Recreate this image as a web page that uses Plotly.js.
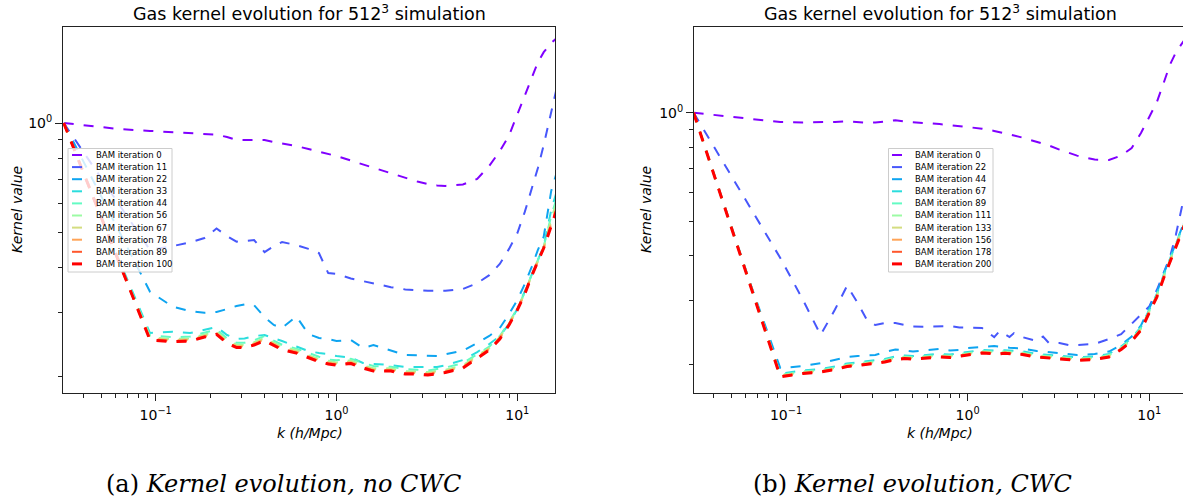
<!DOCTYPE html>
<html><head><meta charset="utf-8">
<script src="https://cdn.plot.ly/plotly-3.0.1.min.js"></script>
<style>html,body{margin:0;padding:0;background:#fff}#chart{width:1183px;height:499px}</style>
</head><body><div id="chart"></div>
<script>
// ---------- data : left panel (no CWC) ----------
const kLeft = [0.031, 0.062, 0.093, 0.124, 0.155, 0.186, 0.217, 0.248, 0.28, 0.31, 0.35, 0.40, 0.45, 0.5, 0.6, 0.7, 0.8, 0.9, 1.0, 1.2, 1.4, 1.6, 2.0, 2.4, 2.8, 3.2, 3.6, 4.0, 5.0, 6.0, 7.0, 8.0, 9.0, 10, 11, 12, 13, 14, 15.4, 17];
const leftIterations = [0, 11, 22, 33, 44, 56, 67, 78, 89, 100];
const left_it0   = [1.0, 0.963, 0.951, 0.942, 0.936, 0.931, 0.929, 0.915, 0.898, 0.898, 0.900, 0.898, 0.886, 0.878, 0.864, 0.848, 0.835, 0.824, 0.811, 0.788, 0.769, 0.752, 0.726, 0.706, 0.690, 0.679, 0.673, 0.671, 0.677, 0.701, 0.762, 0.836, 0.924, 1.055, 1.190, 1.326, 1.470, 1.567, 1.661, 1.737];
const left_it11  = [1.0, 0.600, 0.447, 0.458, 0.469, 0.482, 0.512, 0.488, 0.471, 0.473, 0.476, 0.441, 0.458, 0.470, 0.461, 0.450, 0.438, 0.386, 0.384, 0.373, 0.367, 0.361, 0.353, 0.348, 0.346, 0.345, 0.345, 0.345, 0.349, 0.362, 0.381, 0.409, 0.450, 0.497, 0.569, 0.654, 0.752, 0.870, 1.072, 1.33];
const left_it22  = [1.0, 0.508, 0.343, 0.312, 0.3034, 0.3001, 0.3015, 0.3073, 0.3132, 0.3162, 0.315, 0.292, 0.2777, 0.2725, 0.2931, 0.2623, 0.2557, 0.2541, 0.2508, 0.2525, 0.2400, 0.2445, 0.2368, 0.2296, 0.229, 0.229, 0.2280, 0.2307, 0.2361, 0.2476, 0.259, 0.2723, 0.2976, 0.3254, 0.3602, 0.401, 0.447, 0.486, 0.650, 0.766];
const left_it33  = [1.0, 0.425, 0.2639, 0.2661, 0.2639, 0.2690, 0.2742, 0.2606, 0.2541, 0.2549, 0.2589, 0.2606, 0.2557, 0.2508, 0.2422, 0.2354, 0.2324, 0.2309, 0.2280, 0.2259, 0.2183, 0.2168, 0.2154, 0.2127, 0.2129, 0.2129, 0.2129, 0.2149, 0.2224, 0.2339, 0.2461, 0.2589, 0.2795, 0.3073, 0.3423, 0.3814, 0.4194, 0.4583, 0.576, 0.68];
const left_it44  = [1.0, 0.421, 0.260, 0.257, 0.258, 0.265, 0.270, 0.255, 0.248, 0.248, 0.252, 0.259, 0.251, 0.245, 0.239, 0.232, 0.227, 0.223, 0.222, 0.224, 0.218, 0.214, 0.213, 0.210, 0.209, 0.208, 0.210, 0.212, 0.218, 0.231, 0.242, 0.259, 0.282, 0.309, 0.341, 0.382, 0.418, 0.457, 0.555, 0.65];
const left_it56  = [1.0, 0.419, 0.257, 0.254, 0.255, 0.262, 0.267, 0.252, 0.245, 0.245, 0.249, 0.256, 0.248, 0.242, 0.237, 0.229, 0.224, 0.221, 0.219, 0.222, 0.215, 0.211, 0.211, 0.207, 0.207, 0.206, 0.208, 0.209, 0.215, 0.229, 0.240, 0.257, 0.280, 0.307, 0.340, 0.381, 0.416, 0.455, 0.545, 0.635];
const left_it67  = [1.0, 0.418, 0.2555, 0.2527, 0.2538, 0.2604, 0.265, 0.2506, 0.2435, 0.2435, 0.2474, 0.2547, 0.2464, 0.2402, 0.2352, 0.2279, 0.2226, 0.2194, 0.218, 0.2201, 0.2139, 0.2098, 0.2098, 0.2058, 0.2058, 0.2045, 0.2065, 0.2079, 0.2139, 0.2279, 0.2396, 0.2570, 0.2800, 0.3070, 0.3395, 0.3800, 0.4150, 0.4535, 0.535, 0.62];
const left_it78  = [1.0, 0.418, 0.2543, 0.2514, 0.2526, 0.2591, 0.2636, 0.2493, 0.2423, 0.2423, 0.2462, 0.2535, 0.2452, 0.2391, 0.2340, 0.2268, 0.2215, 0.2183, 0.2169, 0.2190, 0.2129, 0.2087, 0.2087, 0.2048, 0.2048, 0.2035, 0.2055, 0.2068, 0.2129, 0.2268, 0.2385, 0.2558, 0.2790, 0.3062, 0.3388, 0.3795, 0.4145, 0.4530, 0.528, 0.61];
const left_it89  = [1.0, 0.417, 0.2533, 0.2504, 0.2515, 0.2581, 0.2626, 0.2483, 0.2413, 0.2413, 0.2452, 0.2525, 0.2442, 0.2381, 0.2331, 0.2259, 0.2207, 0.2174, 0.2160, 0.2181, 0.2120, 0.2079, 0.2079, 0.2040, 0.2040, 0.2027, 0.2047, 0.2060, 0.2120, 0.2259, 0.2375, 0.2548, 0.2783, 0.3058, 0.3384, 0.3792, 0.4143, 0.4527, 0.523, 0.605];
const left_it100 = [1.0, 0.417, 0.2525, 0.2497, 0.2508, 0.2573, 0.2618, 0.2476, 0.2406, 0.2406, 0.2445, 0.2517, 0.2435, 0.2374, 0.2324, 0.2252, 0.2200, 0.2168, 0.2154, 0.2175, 0.2114, 0.2073, 0.2073, 0.2034, 0.2034, 0.2021, 0.2041, 0.2054, 0.2114, 0.2252, 0.2368, 0.2541, 0.2777, 0.3054, 0.3380, 0.3789, 0.4141, 0.4524, 0.520, 0.60];

// ---------- data : right panel (CWC) ----------
const kRight = [0.031, 0.062, 0.093, 0.124, 0.155, 0.186, 0.217, 0.248, 0.279, 0.31, 0.35, 0.40, 0.45, 0.5, 0.6, 0.7, 0.8, 0.9, 1.0, 1.2, 1.4, 1.5, 1.6, 1.7, 1.8, 2.0, 2.4, 2.6, 2.8, 3.2, 3.6, 4.0, 5.0, 6.0, 7.0, 8.0, 9.0, 10, 11, 12, 13, 14, 15.4, 16.5];
const rightIterations = [0, 22, 44, 67, 89, 111, 133, 156, 178, 200];
const right_it0   = [1.0, 0.964, 0.942, 0.940, 0.940, 0.943, 0.946, 0.940, 0.938, 0.939, 0.945, 0.953, 0.945, 0.942, 0.936, 0.930, 0.924, 0.919, 0.913, 0.903, 0.890, 0.884, 0.878, 0.873, 0.865, 0.853, 0.832, 0.821, 0.811, 0.790, 0.773, 0.760, 0.741, 0.739, 0.760, 0.798, 0.878, 0.973, 1.07, 1.21, 1.36, 1.47, 1.58, 1.66];
const right_it22  = [1.0, 0.554, 0.395, 0.302, 0.2413, 0.2840, 0.3307, 0.2961, 0.2655, 0.2572, 0.2605, 0.2605, 0.2572, 0.2547, 0.2545, 0.2545, 0.2555, 0.2531, 0.2529, 0.2523, 0.2381, 0.2474, 0.2427, 0.2381, 0.2443, 0.2381, 0.2321, 0.2389, 0.2292, 0.2292, 0.2263, 0.2263, 0.2278, 0.2351, 0.2427, 0.2589, 0.2742, 0.2896, 0.3217, 0.3587, 0.3974, 0.4574, 0.572, 0.65];
const right_it44  = [1.0, 0.3474, 0.1953, 0.1978, 0.2016, 0.2056, 0.2096, 0.2110, 0.2117, 0.2123, 0.2164, 0.2199, 0.2186, 0.2171, 0.2192, 0.2206, 0.2185, 0.2192, 0.2220, 0.2235, 0.2249, 0.2240, 0.2228, 0.2225, 0.2220, 0.2213, 0.2178, 0.2170, 0.2164, 0.2150, 0.2137, 0.2123, 0.2137, 0.2170, 0.2265, 0.2390, 0.2565, 0.2880, 0.3170, 0.3570, 0.3960, 0.4380, 0.4900, 0.545];
const right_it67  = [1.0, 0.346, 0.1885, 0.1924, 0.1942, 0.1974, 0.2011, 0.2025, 0.2038, 0.2051, 0.2071, 0.2104, 0.2118, 0.2110, 0.2121, 0.2138, 0.2131, 0.2152, 0.2165, 0.2193, 0.2180, 0.2183, 0.2190, 0.2183, 0.2178, 0.2173, 0.2138, 0.2132, 0.2125, 0.2110, 0.2104, 0.2093, 0.2104, 0.2138, 0.2243, 0.2367, 0.2540, 0.2851, 0.3138, 0.3543, 0.3925, 0.4348, 0.4879, 0.540];
const right_it89  = [1.0, 0.345, 0.1872, 0.1911, 0.1929, 0.1960, 0.1998, 0.2011, 0.2024, 0.2037, 0.2056, 0.2090, 0.2103, 0.2096, 0.2106, 0.2123, 0.2116, 0.2137, 0.2151, 0.2178, 0.2165, 0.2168, 0.2175, 0.2168, 0.2163, 0.2158, 0.2123, 0.2117, 0.2110, 0.2096, 0.2090, 0.2079, 0.2090, 0.2123, 0.2228, 0.2351, 0.2522, 0.2831, 0.3116, 0.3519, 0.3898, 0.4318, 0.4845, 0.537];
const right_it111 = [1.0, 0.345, 0.1865, 0.1903, 0.1921, 0.1952, 0.1990, 0.2003, 0.2016, 0.2029, 0.2048, 0.2082, 0.2095, 0.2088, 0.2098, 0.2115, 0.2108, 0.2129, 0.2142, 0.2169, 0.2156, 0.2159, 0.2166, 0.2159, 0.2154, 0.2149, 0.2115, 0.2109, 0.2102, 0.2088, 0.2082, 0.2070, 0.2082, 0.2115, 0.2219, 0.2342, 0.2512, 0.2820, 0.3104, 0.3505, 0.3883, 0.4301, 0.4826, 0.535];
const right_it133 = [1.0, 0.344, 0.1859, 0.1897, 0.1915, 0.1947, 0.1984, 0.1997, 0.2010, 0.2023, 0.2042, 0.2075, 0.2088, 0.2081, 0.2091, 0.2109, 0.2102, 0.2123, 0.2136, 0.2163, 0.2150, 0.2153, 0.2160, 0.2153, 0.2148, 0.2143, 0.2109, 0.2103, 0.2095, 0.2081, 0.2075, 0.2064, 0.2075, 0.2109, 0.2212, 0.2335, 0.2505, 0.2812, 0.3094, 0.3495, 0.3871, 0.4289, 0.4812, 0.533];
const right_it156 = [1.0, 0.344, 0.1854, 0.1892, 0.1910, 0.1941, 0.1978, 0.1991, 0.2004, 0.2017, 0.2036, 0.2069, 0.2082, 0.2075, 0.2085, 0.2102, 0.2095, 0.2116, 0.2129, 0.2156, 0.2143, 0.2146, 0.2153, 0.2146, 0.2141, 0.2136, 0.2102, 0.2096, 0.2089, 0.2075, 0.2069, 0.2058, 0.2069, 0.2102, 0.2206, 0.2328, 0.2497, 0.2803, 0.3085, 0.3484, 0.3860, 0.4276, 0.4797, 0.532];
const right_it178 = [1.0, 0.344, 0.1850, 0.1888, 0.1906, 0.1937, 0.1974, 0.1987, 0.2000, 0.2013, 0.2032, 0.2065, 0.2078, 0.2071, 0.2081, 0.2098, 0.2091, 0.2112, 0.2125, 0.2152, 0.2139, 0.2142, 0.2149, 0.2142, 0.2137, 0.2132, 0.2098, 0.2092, 0.2085, 0.2071, 0.2065, 0.2054, 0.2065, 0.2098, 0.2201, 0.2323, 0.2492, 0.2798, 0.3079, 0.3477, 0.3852, 0.4267, 0.4788, 0.531];
const right_it200 = [1.0, 0.344, 0.1848, 0.1886, 0.1904, 0.1935, 0.1972, 0.1985, 0.1998, 0.2011, 0.2030, 0.2063, 0.2076, 0.2069, 0.2079, 0.2096, 0.2089, 0.2110, 0.2123, 0.2150, 0.2137, 0.2140, 0.2147, 0.2140, 0.2135, 0.2130, 0.2096, 0.2090, 0.2083, 0.2069, 0.2063, 0.2052, 0.2063, 0.2096, 0.2199, 0.2321, 0.2490, 0.2795, 0.3076, 0.3474, 0.3848, 0.4263, 0.4783, 0.530];

// ---------- ticks / labels ----------
const xMajorVals = [0.1, 1, 10];
const xMajorText = ['10<sup>\u22121</sup>', '10<sup>0</sup>', '10<sup>1</sup>'];
const xMinorVals = [0.04,0.05,0.06,0.07,0.08,0.09,0.2,0.3,0.4,0.5,0.6,0.7,0.8,0.9,2,3,4,5,6,7,8,9];
const yMajorVals = [1];
const yMajorText = ['10<sup>0</sup>'];
const yMinorVals = [0.2,0.3,0.4,0.5,0.6,0.7,0.8,0.9];
const lineColors = ['#8000ff','#4757fb','#0ea4f0','#2bdddd','#63fbc3','#9cfba4','#d4dd80','#ffa457','#ff572c','#ff0000'];
const panelTitle = 'Gas kernel evolution for 512<sup>3</sup> simulation';
const xTitle = '<i>k (h/Mpc)</i>';
const yTitle = '<i>Kernel value</i>';
const captionLeft = '(a) <i>Kernel evolution, no CWC</i>';
const captionRight = '(b) <i>Kernel evolution, CWC</i>';
const legendPrefix = 'BAM iteration ';

const leftSeries = [left_it0,left_it11,left_it22,left_it33,left_it44,left_it56,left_it67,left_it78,left_it89,left_it100];
const rightSeries = [right_it0,right_it22,right_it44,right_it67,right_it89,right_it111,right_it133,right_it156,right_it178,right_it200];

// ---------- layout helpers (pixel -> paper) ----------
const W = 1183, H = 499;
const px = v => v / W;
const py = v => 1 - v / H;
const FONT = 'DejaVu Sans, sans-serif';

const traces = [];
function addPanel(k, series, xa, ya) {
  series.forEach((ys, i) => {
    traces.push({
      x: k, y: ys, xaxis: xa, yaxis: ya, type: 'scatter', mode: 'lines',
      showlegend: false, hoverinfo: 'skip',
      line: {color: lineColors[i], width: i === series.length - 1 ? 3 : 2, dash: '10px,10px'}
    });
  });
}
addPanel(kLeft, leftSeries, 'x', 'y');
addPanel(kRight, rightSeries, 'x2', 'y2');

function xAxis(domain, range, anchor) {
  return {
    type: 'log', domain: domain, range: range, anchor: anchor,
    showline: true, linecolor: '#222', linewidth: 1, mirror: true,
    showgrid: false, zeroline: false,
    ticks: 'outside', ticklen: 7, tickwidth: 1, tickcolor: '#222',
    tickmode: 'array', tickvals: xMajorVals, ticktext: xMajorText,
    ticklabelstandoff: 2,
    tickfont: {family: FONT, size: 14, color: '#000'},
    minor: {tickmode: 'array', tickvals: xMinorVals, ticks: 'outside', ticklen: 4, tickwidth: 1, tickcolor: '#222', showgrid: false}
  };
}
function yAxis(domain, range, anchor, mirror) {
  return {
    type: 'log', domain: domain, range: range, anchor: anchor,
    showline: true, linecolor: '#222', linewidth: 1, mirror: mirror,
    showgrid: false, zeroline: false,
    ticks: 'outside', ticklen: 7, tickwidth: 1, tickcolor: '#222',
    tickmode: 'array', tickvals: yMajorVals, ticktext: yMajorText,
    tickfont: {family: FONT, size: 14, color: '#000'},
    minor: {tickmode: 'array', tickvals: yMinorVals, ticks: 'outside', ticklen: 4, tickwidth: 1, tickcolor: '#222', showgrid: false}
  };
}

const shapes = [];
const annotations = [];
function addLegend(x0, x1, y0, y1, sampleX0, sampleX1, textX, iters) {
  shapes.push({type: 'rect', xref: 'paper', yref: 'paper', x0: px(x0), x1: px(x1), y0: py(y1), y1: py(y0),
    fillcolor: 'rgba(255,255,255,0.8)', line: {color: '#cccccc', width: 1}, layer: 'above'});
  iters.forEach((it, i) => {
    const ry = 155 + 12.1 * i;
    shapes.push({type: 'line', xref: 'paper', yref: 'paper', x0: px(sampleX0), x1: px(sampleX1), y0: py(ry), y1: py(ry),
      line: {color: lineColors[i], width: i === iters.length - 1 ? 3 : 2}, layer: 'above'});
    annotations.push({xref: 'paper', yref: 'paper', x: px(textX), y: py(ry), xanchor: 'left', yanchor: 'middle',
      text: '<span style="font-size:8.5px">' + legendPrefix + it + '</span>', showarrow: false,
      font: {family: FONT, size: 8.5, color: '#000'}});
  });
}
addLegend(68, 172, 148.5, 272, 72, 82, 93.5, leftIterations);
addLegend(888.5, 993, 148.5, 272, 892, 902, 913.5, rightIterations);

function addText(x, y, text, font, extra) {
  annotations.push(Object.assign({xref: 'paper', yref: 'paper', x: px(x), y: py(y), xanchor: 'center', yanchor: 'middle',
    text: text, showarrow: false, font: font}, extra || {}));
}
const titleFont = {family: FONT, size: 17.5, color: '#000'};
const labelFont = {family: FONT, size: 14, color: '#000'};
const captionFont = {family: 'DejaVu Serif, serif', size: 24, color: '#000'};
addText(309.5, 13, panelTitle, titleFont);
addText(940, 13, panelTitle, titleFont);
addText(309.5, 432.5, xTitle, labelFont);
addText(940, 432.5, xTitle, labelFont);
addText(17, 210, yTitle, labelFont, {textangle: -90});
addText(646, 210, yTitle, labelFont, {textangle: -90});
addText(283.5, 484, captionLeft, captionFont);
addText(912.5, 484, captionRight, captionFont);

const layout = {
  width: W, height: H, margin: {l: 0, r: 0, t: 0, b: 0, pad: 0},
  paper_bgcolor: '#fff', plot_bgcolor: '#fff', showlegend: false,
  font: {family: FONT, color: '#000'},
  xaxis: xAxis([px(63), px(555)], [-1.5127, 1.2085], 'y'),
  yaxis: yAxis([1 - 393.3 / H, 1 - 26.7 / H], [-0.7446, 0.2653], 'x', true),
  xaxis2: xAxis([px(694), 1], [-1.5066, 1.1856], 'y2'),
  yaxis2: yAxis([1 - 393.3 / H, 1 - 26.7 / H], [-0.7794, 0.239], 'x2', false),
  shapes: shapes, annotations: annotations
};
Plotly.newPlot('chart', traces, layout, {displayModeBar: false, staticPlot: true});
</script>
</body></html>
